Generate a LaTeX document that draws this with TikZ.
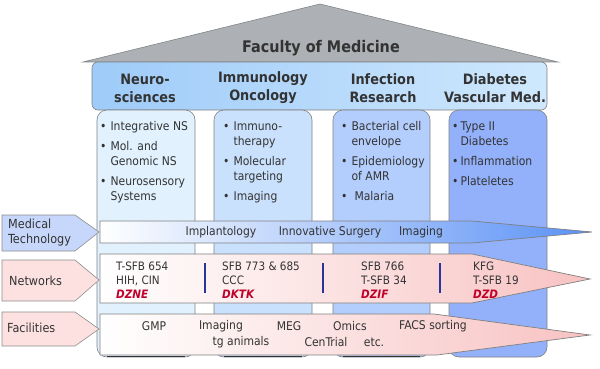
\documentclass[tikz,border=0pt]{standalone}
\usepackage{fontspec}
\setmainfont{DejaVu Sans Condensed}
\usetikzlibrary{positioning}
\definecolor{roofgray}{HTML}{ADB0B4}
\definecolor{hdrleft}{HTML}{9ECBF9}
\definecolor{hdrright}{HTML}{CFE8FD}
\definecolor{colA}{HTML}{E1F1FE}
\definecolor{colB}{HTML}{C9E1FC}
\definecolor{colC}{HTML}{B3CDFC}
\definecolor{colD}{HTML}{93B1FA}
\definecolor{techtag}{HTML}{C6D7FB}
\definecolor{pinktag}{HTML}{FDE1E1}
\definecolor{techmid}{HTML}{D3DCFB}
\definecolor{techend}{HTML}{5A91F6}
\definecolor{pinkend}{HTML}{F8C2C2}
\definecolor{txt}{HTML}{333333}
\definecolor{partnerred}{HTML}{C0002A}
\definecolor{barblue}{HTML}{2B3399}
\newcommand{\partner}[1]{{\bfseries\itshape\color{partnerred}#1}}
\newcommand{\itm}{\textbullet &}
\tikzset{
  outline/.style = {
    draw = black!50,
    line width = 0.6pt
  },
  % roof and header
  roof/.style = {
    fill = roofgray,
    draw = roofgray!75!black,
    line width = 0.6pt
  },
  header/.style = {
    outline,
    rounded corners = 6pt,
    left color = hdrleft,
    right color = hdrright
  },
  title/.style = {
    font = \fontsize{16}{18}\selectfont\bfseries,
    text = txt
  },
  head/.style = {
    font = \fontsize{14.3}{18}\selectfont\bfseries,
    text = txt,
    align = center
  },
  % pillars
  column/.style = {
    outline,
    rounded corners = 10pt
  },
  col foot/.style = {
    draw = black!80,
    line width = 1.6pt
  },
  items/.style = {
    font = \fontsize{12}{15}\selectfont,
    text = txt,
    anchor = north west,
    inner sep = 0
  },
  % side tags and bands
  tag/.style = {
    outline,
    draw = black!45
  },
  tagtext/.style = {
    font = \fontsize{12.5}{15}\selectfont,
    text = txt,
    anchor = west,
    inner sep = 0,
    align = left
  },
  band/.style = {
    draw = black!50,
    line width = 0.7pt
  },
  bandtext/.style = {
    font = \fontsize{12}{15}\selectfont,
    text = txt
  },
  netw/.style = {
    items,
    font = \fontsize{11.6}{14}\selectfont
  },
  sep bar/.style = {
    draw = barblue,
    line width = 1.8pt
  }
}
\begin{document}
\begin{tikzpicture}[x=1pt, y=-1pt]
  \useasboundingbox (0,0) rectangle (600,369);

  \filldraw[roof] (83,62) -- (320,4) -- (558,62) -- cycle;
  \node[title] (faculty) at (321,48) {Faculty of Medicine};
  \shadedraw[header] (92,62) rectangle (547,110);
  \node[head] (neuro-head) at (145,88) {Neuro-\\sciences};
  \node[head] (immuno-head) at (263,88) {Immunology\\Oncology};
  \node[head] (infect-head) at (383,88) {Infection\\Research};
  \node[head] (diab-head) at (495,88) {Diabetes\\Vascular Med.};

  \filldraw[column, fill=colA] (97,110) rectangle (195,357);
  \filldraw[column, fill=colB] (214,110) rectangle (312,357);
  \filldraw[column, fill=colC] (333,110) rectangle (430,357);
  \filldraw[column, fill=colD] (449,110) rectangle (547,357);
  \foreach \a/\b in {107/185, 224/302, 343/420}
    \draw[col foot] (\a,356.5) -- (\b,356.5);

  \node[items] (neuro-list) at (100,120) {\begin{tabular}{@{}l@{\hspace{4pt}}l@{}}
    \itm Integrative NS\\[5pt]
    \itm Mol. and\\ & Genomic NS\\[5pt]
    \itm Neurosensory\\ & Systems
  \end{tabular}};
  \node[items] (immuno-list) at (223,120) {\begin{tabular}{@{}l@{\hspace{4pt}}l@{}}
    \itm Immuno-\\ & therapy\\[5pt]
    \itm Molecular\\ & targeting\\[5pt]
    \itm Imaging
  \end{tabular}};
  \node[items] (infect-list) at (341,120) {\begin{tabular}{@{}l@{\hspace{4pt}}l@{}}
    \itm Bacterial cell\\ & envelope\\[5pt]
    \itm Epidemiology\\ & of AMR\\[5pt]
    \itm \hspace{3pt}Malaria
  \end{tabular}};
  \node[items] (diab-list) at (452,120) {\begin{tabular}{@{}l@{\hspace{2pt}}l@{}}
    \itm Type II\\ & Diabetes\\[5pt]
    \itm Inflammation\\[5pt]
    \itm Plateletes
  \end{tabular}};

  \filldraw[tag, fill=techtag] (2,215) -- (75,215) -- (99,232) -- (75,251) -- (2,251) -- cycle;
  \node[tagtext] (tech-tag) at (8,233) {Medical\\Technology};
  \filldraw[tag, fill=pinktag] (2,260) -- (75,260) -- (99,280) -- (75,301) -- (2,301) -- cycle;
  \node[tagtext] (net-tag) at (9,281) {Networks};
  \filldraw[tag, fill=pinktag] (2,312) -- (75,312) -- (99,329) -- (75,346) -- (2,346) -- cycle;
  \node[tagtext] (fac-tag) at (7,328) {Facilities};

  \shadedraw[band, left color=white, middle color=techmid, right color=techend]
    (100,221) -- (472,221) -- (592,232) -- (472,243) -- (100,243) -- cycle;
  \node[bandtext] (implant) at (221,232) {Implantology};
  \node[bandtext] (surgery) at (330,232) {Innovative Surgery};
  \node[bandtext] (imaging-tech) at (421,232) {Imaging};

  \shadedraw[band, left color=white, right color=pinkend]
    (100,254) -- (472,254) -- (590,279) -- (472,303) -- (100,303) -- cycle;
  \node[netw] (neuro-net) at (116,260) {\begin{tabular}{@{}l@{}}T-SFB 654\\HIH, CIN\\\partner{DZNE}\end{tabular}};
  \node[netw] (immuno-net) at (222,260) {\begin{tabular}{@{}l@{}}SFB 773 \& 685\\CCC\\\partner{DKTK}\end{tabular}};
  \node[netw] (infect-net) at (361,260) {\begin{tabular}{@{}l@{}}SFB 766\\T-SFB 34\\\partner{DZIF}\end{tabular}};
  \node[netw] (diab-net) at (473,260) {\begin{tabular}{@{}l@{}}KFG\\T-SFB 19\\\partner{DZD}\end{tabular}};
  \foreach \x in {205,323,440}
    \draw[sep bar] (\x,263) -- (\x,293);

  \shadedraw[band, left color=white, right color=pinkend]
    (100,314) -- (434,314) -- (590,335) -- (437,355) -- (100,355) -- cycle;
  \node[bandtext] (gmp) at (154,326) {GMP};
  \node[bandtext] (imaging-fac) at (221,326) {Imaging};
  \node[bandtext] (meg) at (289,326) {MEG};
  \node[bandtext] (omics) at (350,326) {Omics};
  \node[bandtext] (facs) at (433,326) {FACS sorting};
  \node[bandtext] (tg) at (241,342) {tg animals};
  \node[bandtext] (centrial) at (326,342) {CenTrial};
  \node[bandtext] (etc) at (374,342) {etc.};
\end{tikzpicture}
\end{document}
